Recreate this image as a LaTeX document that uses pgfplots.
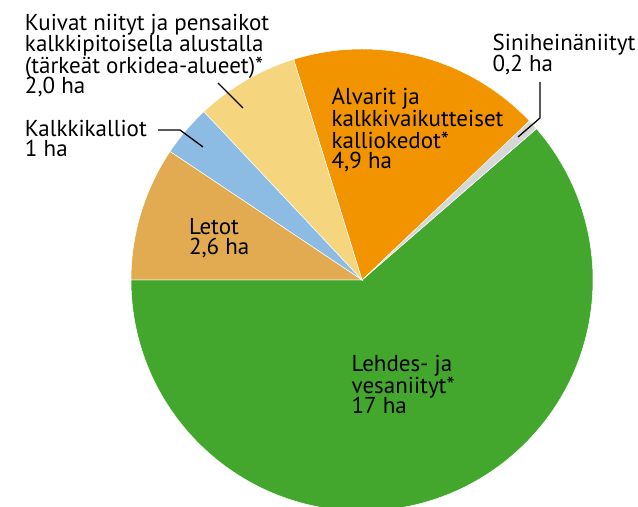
\documentclass[border=0pt]{standalone}
\usepackage{pgfplots}
\usepackage{pgfplotstable}
\pgfplotsset{compat=1.18}
\usepackage{fontspec}
\setmainfont{PT Sans}
\definecolor{cgreen}{RGB}{67,166,45}
\definecolor{cgray}{RGB}{215,215,215}
\definecolor{corange}{RGB}{241,148,0}
\definecolor{cyellow}{RGB}{245,213,125}
\definecolor{cblue}{RGB}{140,188,227}
\definecolor{ctan}{RGB}{226,171,82}
\pgfplotstableread{
value col
17 cgreen
0.2 cgray
4.9 corange
2.0 cyellow
1 cblue
2.6 ctan
}\piedata
\tikzset{lbl/.style={anchor=base west, inner sep=0pt, outer sep=0pt, font=\fontsize{11.5}{13}\selectfont}}
\begin{document}
\begin{tikzpicture}
\pgfplotstablegetrowsof{\piedata}
\pgfmathtruncatemacro\lastrow{\pgfplotsretval-1}
\xdef\total{0}
\foreach \i in {0,...,\lastrow}{%
  \pgfplotstablegetelem{\i}{value}\of\piedata
  \pgfmathsetmacro\t{\total+\pgfplotsretval}\xdef\total{\t}}
\begin{axis}[x=0.5pt,y=0.5pt,hide axis,
  xmin=-362,xmax=276,ymin=-227,ymax=280]
\addplot[draw=none] coordinates {(-362,-227) (276,280)};
\xdef\angA{180}
\foreach \i in {0,...,\lastrow}{%
  \pgfplotstablegetelem{\i}{value}\of\piedata \let\v\pgfplotsretval
  \pgfplotstablegetelem{\i}{col}\of\piedata \let\c\pgfplotsretval
  \pgfmathsetmacro\angB{\angA+360*\v/\total}%
  \edef\temp{\noexpand\fill[\c, draw=white, line width=0.25pt] (axis cs:0,0) -- (axis cs:{231*cos(\angA)},{231*sin(\angA)}) arc[start angle=\angA, end angle=\angB, radius=115.5pt] -- cycle;}%
  \temp
  \xdef\angA{\angB}%
}
% leader lines
\draw[line width=0.65pt] (axis cs:-204,150) -- (axis cs:-182,150) -- (axis cs:-159,133);
\draw[line width=0.65pt] (axis cs:-144,197) -- (axis cs:-119,172);
\draw[line width=0.65pt] (axis cs:178,198) -- (axis cs:178,162) -- (axis cs:156,143);
% labels (x = px-362, y = 280-baseline)
\node[lbl] at (axis cs:-337,249.3) {Kuivat niityt ja pensaikot};
\node[lbl] at (axis cs:-337,228.3) {kalkkipitoisella alustalla};
\node[lbl] at (axis cs:-337,206.7) {(tärkeät orkidea-alueet)*};
\node[lbl] at (axis cs:-337,186.7) {2,0 ha};
\node[lbl] at (axis cs:-337,143.3) {Kalkkikalliot};
\node[lbl] at (axis cs:-337,123.3) {1 ha};
\node[lbl] at (axis cs:130.7,229) {Siniheinäniityt};
\node[lbl] at (axis cs:130.7,208.3) {0,2 ha};
\node[lbl] at (axis cs:-30.3,175) {Alvarit ja};
\node[lbl] at (axis cs:-30.3,153.3) {kalkkivaikutteiset};
\node[lbl] at (axis cs:-30.3,131.7) {kalliokedot*};
\node[lbl] at (axis cs:-30.3,111.7) {4,9 ha};
\node[lbl] at (axis cs:-173,45) {Letot};
\node[lbl] at (axis cs:-173,25) {2,6 ha};
\node[lbl] at (axis cs:-10.3,-91.7) {Lehdes- ja};
\node[lbl] at (axis cs:-10.3,-113.3) {vesaniityt*};
\node[lbl] at (axis cs:-10.3,-134) {17 ha};
\end{axis}
\pgfresetboundingbox
\useasboundingbox (current axis.south west) rectangle (current axis.north east);
\end{tikzpicture}
\end{document}
